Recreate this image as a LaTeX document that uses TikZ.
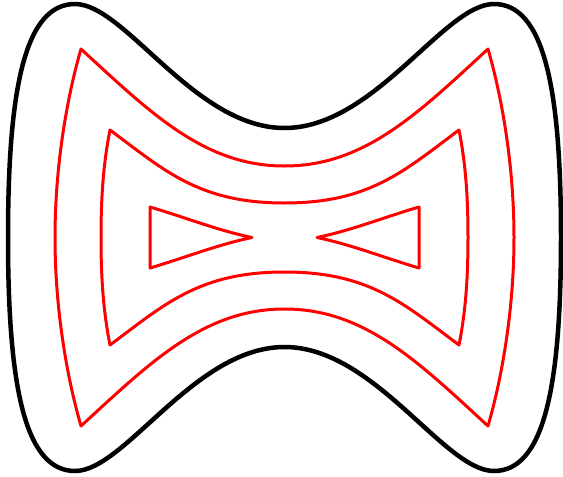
\documentclass[tikz,border=0pt]{standalone}
\begin{document}
\begin{tikzpicture}[x=1pt,y=-1pt,
  outline/.style={draw=black,line width=4.5pt,line join=round},
  level/.style={draw=red,line width=3pt,line join=round}]
\useasboundingbox[fill=white] (0,0) rectangle (563,477);
% black outer curve
\path[outline] (284.5,128) .. controls (194.5,128) and (125,4) .. (75,4)
  .. controls (25,4) and (8,88) .. (8,237.5)
  .. controls (8,387) and (25,471) .. (75,471)
  .. controls (125,471) and (194.5,347) .. (284.5,347)
  .. controls (374.5,347) and (444,471) .. (494,471)
  .. controls (544,471) and (561,387) .. (561,237.5)
  .. controls (561,88) and (544,4) .. (494,4)
  .. controls (444,4) and (374.5,128) .. (284.5,128) -- cycle;
% first red level
\path[level] (81,49) .. controls (151,113.4) and (204.5,166) .. (284.5,166)
  .. controls (364.5,166) and (418,113.4) .. (488,49)
  .. controls (502.5,99) and (514,167.5) .. (514,237.5)
  .. controls (514,307.5) and (502.5,376) .. (488,426)
  .. controls (418,361.6) and (364.5,309) .. (284.5,309)
  .. controls (204.5,309) and (151,361.6) .. (81,426)
  .. controls (66.5,376) and (55,307.5) .. (55,237.5)
  .. controls (55,167.5) and (66.5,99) .. (81,49) -- cycle;
% second red level
\path[level] (110,130) .. controls (165,171) and (199.5,203) .. (284.5,203)
  .. controls (369.5,203) and (404,171) .. (459,130)
  .. controls (466,165) and (468,200) .. (468,237.5)
  .. controls (468,275) and (466,310) .. (459,345)
  .. controls (404,304) and (369.5,272) .. (284.5,272)
  .. controls (199.5,272) and (165,304) .. (110,345)
  .. controls (103,310) and (101,275) .. (101,237.5)
  .. controls (101,200) and (103,165) .. (110,130) -- cycle;
% innermost red level: two triangles
\path[level] (150,207) .. controls (184,217) and (218,230.5) .. (252,237.5)
  .. controls (218,244.5) and (184,258) .. (150,268) -- cycle;
\path[level] (419,207) .. controls (385,217) and (351,230.5) .. (317,237.5)
  .. controls (351,244.5) and (385,258) .. (419,268) -- cycle;
\end{tikzpicture}
\end{document}
